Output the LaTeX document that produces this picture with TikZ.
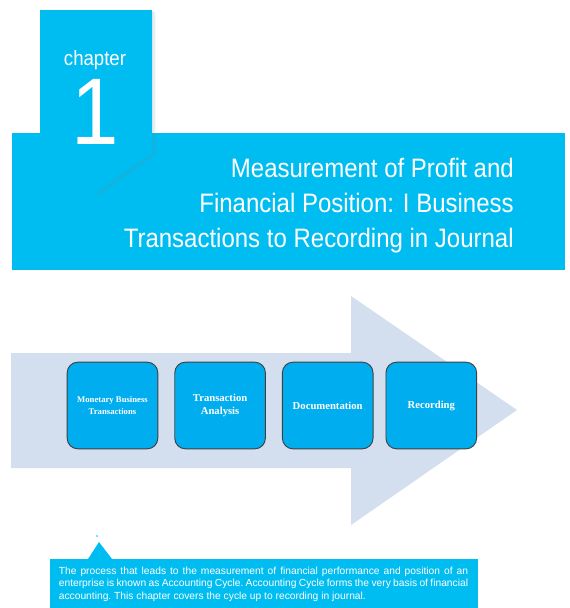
\documentclass[tikz,border=0pt]{standalone}
\usepackage{fontspec}
\setmainfont{Liberation Sans}
\newfontfamily\titlefont{Liberation Sans}[FakeStretch=0.9]
\newfontfamily\boxfont{Liberation Serif}
\usetikzlibrary{positioning, shadows}
\definecolor{chapcyan}{RGB}{0,189,241}
\definecolor{stepblue}{RGB}{0,174,239}
\definecolor{arrowgray}{RGB}{211,223,238}
\tikzset{
  stepbox/.style={draw=black!75, line width=0.7pt, fill=stepblue, rounded corners=8pt,
    minimum width=68pt, minimum height=65pt, text=white, align=center,
    font=\boxfont\bfseries\fontsize{8}{10}\selectfont},
}

\begin{document}
\begin{tikzpicture}[x=0.75pt, y=-0.75pt]
\useasboundingbox (0,0) rectangle (570,608);

% Title banner
\fill[chapcyan] (12,133) rectangle (565,270);

% Chapter tab
\fill[chapcyan, drop shadow={shadow xshift=2.5pt, shadow yshift=-1.5pt, opacity=0.15}]
    (40,10) -- (152,10) -- (152,153) -- (95,193) -- (40,153) -- cycle;
\node[anchor=base, text=white, inner sep=0pt, text depth=0pt,
      font=\titlefont\fontsize{15.5}{17}\selectfont] (chap) at (95,65) {chapter};
\node[anchor=base, text=white, inner sep=0pt, text height=51pt,
      font=\titlefont\fontsize{71}{71}\selectfont] (chapnum) at (95,144) {1};

% Title
\node[anchor=base east, align=right, text=white, inner sep=0pt,
      font=\titlefont\fontsize{20}{26}\selectfont] (title) at (514,247)
    {Measurement of Profit and\\ Financial Position: I Business\\ Transactions to Recording in Journal};

% Process arrow
\fill[arrowgray] (11,353) -- (351,353) -- (351,296) -- (517,410) -- (351,525) -- (351,468) -- (11,468) -- cycle;

% Steps
\node[stepbox, font=\boxfont\bfseries\fontsize{6.5}{8.5}\selectfont] (monetary) at (112.5,405.5) {Monetary Business\\ Transactions};
\node[stepbox, right=12pt of monetary] (analysis) {Transaction\\ Analysis};
\node[stepbox, right=12pt of analysis] (documents) {Documentation};
\node[stepbox, right=9pt of documents] (recording) {Recording};

% Note box
\fill[chapcyan] (50,559) rectangle (478,608);
\fill[chapcyan] (88,559) -- (99,542) -- (112,559) -- cycle;
\fill[chapcyan] (97,536) circle (0.8);
\node[text width=307pt, align=justify, text=white, inner sep=0pt,
      font=\fontsize{7.7}{9.4}\selectfont] (note) at (263.5,584)
    {\frenchspacing\hyphenpenalty=10000\relax
     The process that leads to the measurement of financial performance and position of an enterprise is known as Accounting Cycle. Accounting Cycle forms the very basis of financial accounting. This chapter covers the cycle up to recording in journal.};

\end{tikzpicture}
\end{document}
